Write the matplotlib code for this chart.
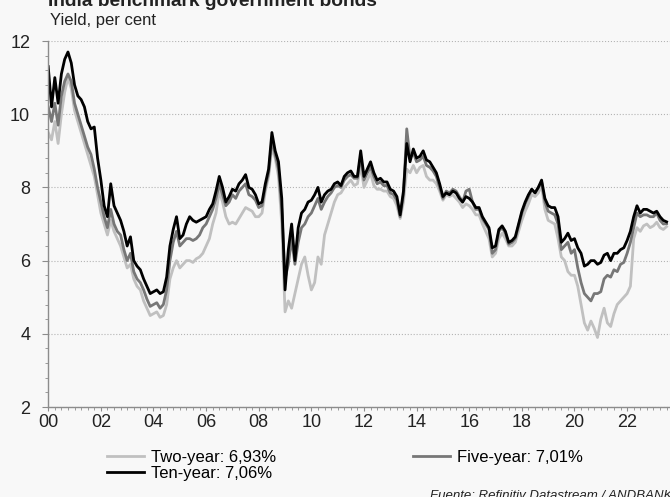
import numpy as np
import matplotlib
matplotlib.use("Agg")
import matplotlib.pyplot as plt
from matplotlib.ticker import MultipleLocator, FuncFormatter

plt.rcParams['font.family'] = ['Liberation Sans', 'DejaVu Sans']

# fechas: 8 puntos por año, de 2000.0 a 2023.5
fechas = np.arange(189) / 8.0 + 2000

diez = [
    11.3, 10.2, 11.0, 10.3, 11.1, 11.5, 11.7, 11.4,   # 2000
    10.8, 10.5, 10.4, 10.2, 9.8, 9.6, 9.65, 8.8,      # 2001
    8.2, 7.5, 7.2, 8.1, 7.5, 7.3, 7.1, 6.8,           # 2002
    6.4, 6.65, 6.0, 5.85, 5.75, 5.5, 5.3, 5.1,        # 2003
    5.15, 5.2, 5.1, 5.15, 5.55, 6.4, 6.85, 7.2,       # 2004
    6.6, 6.7, 7.0, 7.2, 7.1, 7.05, 7.1, 7.15,         # 2005
    7.2, 7.4, 7.55, 7.9, 8.3, 8.0, 7.6, 7.75,         # 2006
    7.95, 7.9, 8.1, 8.2, 8.35, 8.0, 7.95, 7.8,        # 2007
    7.55, 7.6, 8.1, 8.5, 9.5, 9.0, 8.7, 7.7,          # 2008
    5.2, 6.3, 7.0, 6.0, 6.9, 7.3, 7.4, 7.6,           # 2009
    7.65, 7.8, 8.0, 7.6, 7.8, 7.9, 7.95, 8.1,         # 2010
    8.15, 8.05, 8.3, 8.4, 8.45, 8.3, 8.3, 9.0,        # 2011
    8.3, 8.5, 8.7, 8.4, 8.2, 8.25, 8.15, 8.15,        # 2012
    7.95, 7.9, 7.75, 7.25, 7.9, 9.2, 8.7, 9.05,       # 2013
    8.8, 8.85, 9.0, 8.75, 8.7, 8.55, 8.4, 8.1,        # 2014
    7.75, 7.85, 7.8, 7.9, 7.85, 7.7, 7.6, 7.75,       # 2015
    7.7, 7.6, 7.45, 7.45, 7.2, 7.05, 6.9, 6.35,       # 2016
    6.4, 6.85, 6.95, 6.8, 6.5, 6.55, 6.65, 7.0,       # 2017
    7.35, 7.6, 7.8, 7.95, 7.85, 8.0, 8.2, 7.7,        # 2018
    7.5, 7.45, 7.45, 7.2, 6.5, 6.6, 6.75, 6.55,       # 2019
    6.6, 6.35, 6.2, 5.85, 5.9, 6.0, 6.0, 5.9,         # 2020
    5.95, 6.15, 6.2, 6.0, 6.2, 6.2, 6.3, 6.35,        # 2021
    6.55, 6.8, 7.2, 7.5, 7.3, 7.4, 7.4, 7.35,         # 2022
    7.3, 7.35, 7.2, 7.1, 7.06,                        # 2023
]

cinco = [
    10.2, 9.8, 10.3, 9.7, 10.5, 10.9, 11.1, 10.9,
    10.3, 10.0, 9.7, 9.4, 9.1, 8.9, 8.5, 8.0,
    7.6, 7.2, 6.9, 7.4, 7.0, 6.8, 6.7, 6.3,
    6.0, 6.2, 5.7, 5.5, 5.4, 5.2, 4.95, 4.75,
    4.8, 4.85, 4.7, 4.8, 5.2, 6.0, 6.5, 6.8,
    6.4, 6.5, 6.6, 6.6, 6.55, 6.6, 6.7, 6.9,
    7.0, 7.2, 7.4, 7.7, 8.1, 7.8, 7.5, 7.6,
    7.8, 7.7, 7.9, 8.0, 8.1, 7.8, 7.75, 7.65,
    7.45, 7.5, 8.0, 8.4, 9.3, 8.9, 8.5, 7.4,
    5.5, 5.9, 6.6, 5.9, 6.5, 6.9, 7.0, 7.2,
    7.3, 7.5, 7.7, 7.4, 7.6, 7.75, 7.85, 8.0,
    8.05, 8.0, 8.2, 8.3, 8.35, 8.25, 8.25, 8.85,
    8.2, 8.4, 8.55, 8.3, 8.1, 8.15, 8.05, 8.05,
    7.85, 7.8, 7.65, 7.2, 7.8, 9.6, 8.8, 8.95,
    8.7, 8.75, 8.85, 8.6, 8.55, 8.45, 8.3, 8.0,
    7.7, 7.9, 7.85, 7.95, 7.9, 7.75, 7.6, 7.9,
    7.95, 7.6, 7.4, 7.4, 7.15, 7.0, 6.85, 6.2,
    6.3, 6.8, 6.9, 6.75, 6.45, 6.5, 6.6, 6.95,
    7.3, 7.55, 7.75, 7.95, 7.85, 8.0, 8.15, 7.6,
    7.35, 7.3, 7.25, 7.0, 6.3, 6.4, 6.5, 6.2,
    6.3, 5.8, 5.4, 5.1, 5.0, 4.9, 5.1, 5.1,
    5.15, 5.5, 5.6, 5.55, 5.75, 5.7, 5.9, 5.95,
    6.2, 6.5, 6.9, 7.3, 7.2, 7.25, 7.25, 7.2,
    7.2, 7.3, 7.1, 7.0, 7.01,
]

dos = [
    9.5, 9.3, 9.8, 9.2, 10.0, 10.6, 11.0, 10.7,
    10.1, 9.8, 9.5, 9.2, 8.9, 8.6, 8.3, 7.8,
    7.3, 7.0, 6.7, 7.1, 6.8, 6.6, 6.4, 6.1,
    5.8, 5.9, 5.5, 5.3, 5.2, 4.9, 4.7, 4.5,
    4.55, 4.6, 4.45, 4.5, 4.8, 5.5, 5.8, 6.0,
    5.8, 5.9, 6.0, 6.0, 5.95, 6.05, 6.1, 6.2,
    6.4, 6.6, 7.0, 7.3, 7.9, 7.6, 7.2, 7.0,
    7.05, 7.0, 7.15, 7.3, 7.45, 7.4, 7.35, 7.2,
    7.2, 7.3, 7.9, 8.3, 9.1, 8.8, 8.3, 7.0,
    4.6, 4.9, 4.7, 5.1, 5.5, 5.9, 6.1, 5.6,
    5.2, 5.4, 6.1, 5.9, 6.7, 7.0, 7.3, 7.6,
    7.8, 7.85, 8.0, 8.1, 8.2, 8.05, 8.1, 8.6,
    8.0, 8.2, 8.4, 8.05, 7.95, 7.95, 7.9, 7.9,
    7.75, 7.7, 7.5, 7.15, 7.6, 8.5, 8.4, 8.6,
    8.4, 8.55, 8.6, 8.3, 8.2, 8.2, 8.1, 7.9,
    7.65, 7.8, 7.75, 7.8, 7.7, 7.6, 7.45, 7.55,
    7.5, 7.4, 7.25, 7.25, 7.0, 6.8, 6.6, 6.1,
    6.2, 6.6, 6.75, 6.6, 6.4, 6.4, 6.5, 6.8,
    7.1, 7.35, 7.55, 7.8, 7.75, 7.85, 8.05, 7.4,
    7.1, 7.05, 7.0, 6.6, 6.1, 6.0, 5.7, 5.6,
    5.6, 5.3, 4.8, 4.3, 4.1, 4.35, 4.15, 3.9,
    4.4, 4.7, 4.3, 4.2, 4.55, 4.8, 4.9, 5.0,
    5.1, 5.3, 6.6, 6.9, 6.8, 6.95, 7.0, 6.9,
    6.95, 7.05, 6.9, 6.85, 6.93,
]

fondo = "#f8f8f8"
fig = plt.figure(figsize=(6.7, 4.97), dpi=100, facecolor=fondo)
ax = fig.add_axes([0.072, 0.181, 0.928, 0.7365], facecolor=fondo)

ax.plot(fechas, dos, color="#c0c0c0", lw=2.0, label="Two-year: 6,93%")
ax.plot(fechas, cinco, color="#777777", lw=2.0, label="Five-year: 7,01%")
ax.plot(fechas, diez, color="#000000", lw=2.0, label="Ten-year: 7,06%")

ax.set_xlim(2000, 2023.63)
ax.set_ylim(2, 12)
ax.xaxis.set_major_locator(MultipleLocator(2))
ax.xaxis.set_minor_locator(MultipleLocator(0.25))
ax.xaxis.set_major_formatter(FuncFormatter(lambda v, p: "{:02d}".format(int(round(v)) % 100)))
ax.yaxis.set_major_locator(MultipleLocator(2))
ax.yaxis.set_minor_locator(MultipleLocator(0.4))

ax.grid(axis="y", which="major", color="#b4b4b4", linestyle=":", lw=0.8)
for s in ["top", "right"]:
    ax.spines[s].set_visible(False)
for s in ["left", "bottom"]:
    ax.spines[s].set_color("#8c8c8c")
    ax.spines[s].set_linewidth(1)

ax.tick_params(axis="y", which="major", length=4, color="#8c8c8c", labelsize=13, pad=9, labelcolor="#222222")
ax.tick_params(axis="y", which="minor", length=2, color="#8c8c8c")
ax.tick_params(axis="x", which="major", length=3, color="#8c8c8c", labelsize=13, pad=2, labelcolor="#222222")
ax.tick_params(axis="x", which="minor", length=2, color="#8c8c8c")

handles, labels = ax.get_legend_handles_labels()
orden = [0, 2, 1]
ax.legend([handles[i] for i in orden], [labels[i] for i in orden], ncol=2,
          loc="upper left", bbox_to_anchor=(0.095, -0.118), frameon=False,
          fontsize=12, handlelength=2.2, handletextpad=0.45, columnspacing=8.2,
          labelspacing=0.05, borderaxespad=0, borderpad=0)

fig.text(0.072, 1 - 6 / 497, "India benchmark government bonds", fontsize=13.8,
         fontweight="bold", color="#222222", va="baseline")
fig.text(0.074, 1 - 25 / 497, "Yield, per cent", fontsize=12, color="#222222", va="baseline")
fig.text(430 / 670, 1 - 490 / 497, "Fuente: Refinitiv Datastream / ANDBANK", fontsize=9.5,
         style="italic", color="#222222", va="top")

fig.savefig("out.png", dpi=100, facecolor=fondo)
